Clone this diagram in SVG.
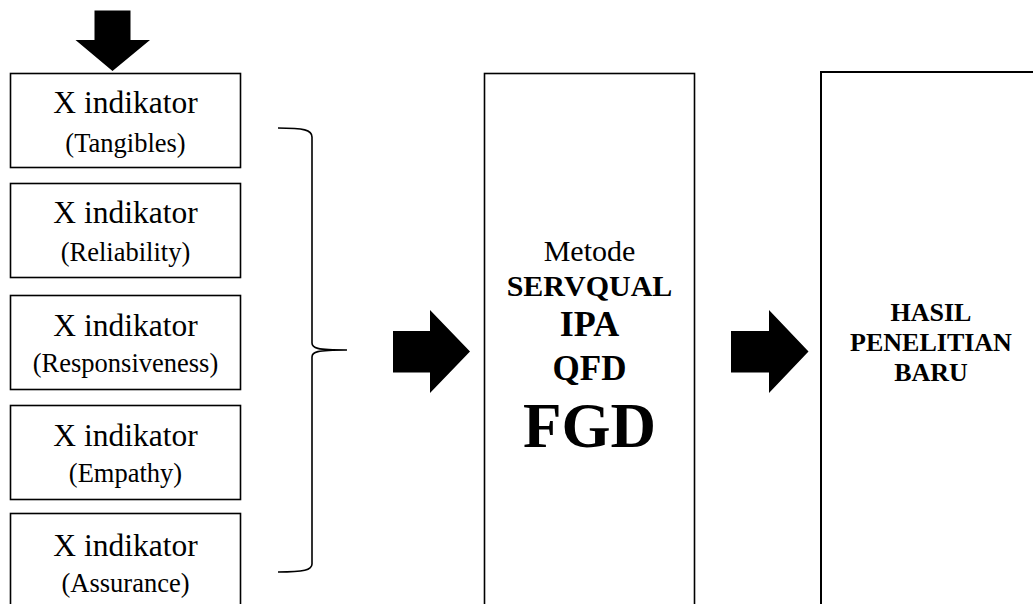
<svg xmlns="http://www.w3.org/2000/svg" width="1033" height="604" viewBox="0 0 1033 604">
<style>
.box{fill:#fff;stroke:#000;stroke-width:1.6}
.t1{font-family:"Liberation Serif","Times New Roman",serif;font-size:31.5px;text-anchor:middle;fill:#000}
.t2{font-family:"Liberation Serif","Times New Roman",serif;font-size:26.5px;text-anchor:middle;fill:#000}
.b{font-family:"Liberation Serif","Times New Roman",serif;font-weight:bold;text-anchor:middle;fill:#000}
.arr{fill:#000;stroke:none}
.brace{fill:none;stroke:#000;stroke-width:1.6}
</style>
<rect width="1033" height="604" fill="#fff"/>
<g id="connectors">
<polygon class="arr" points="94.5,10.5 130.5,10.5 130.5,40 150,40 112.5,71 75.5,40 94.5,40"/>
<path class="brace" d="M278,128 C304,128 312,130 312,137 V343 C312,348 316,350 347,350 M347,350 C316,350 312,352 312,357 V564 C312,570 304,572 278,572"/>
<polygon class="arr" points="393,331 430,331 430,310 470,351.5 430,393 430,372.5 393,372.5"/>
<polygon class="arr" points="731,331 769,331 769,310 808.5,351.5 769,393 769,372.5 731,372.5"/>
</g>
<g id="node-tangibles">
<rect class="box" x="10.5" y="73.5" width="230" height="94"/>
<text class="t1" x="125.5" y="113">X indikator</text>
<text class="t2" x="125.5" y="152">(Tangibles)</text>
</g>
<g id="node-reliability">
<rect class="box" x="10.5" y="183.5" width="230" height="94"/>
<text class="t1" x="125.5" y="223">X indikator</text>
<text class="t2" x="125.5" y="261">(Reliability)</text>
</g>
<g id="node-responsiveness">
<rect class="box" x="10.5" y="295.5" width="230" height="94"/>
<text class="t1" x="125.5" y="336">X indikator</text>
<text class="t2" x="125.5" y="372">(Responsiveness)</text>
</g>
<g id="node-empathy">
<rect class="box" x="10.5" y="405.5" width="230" height="94"/>
<text class="t1" x="125.5" y="446">X indikator</text>
<text class="t2" x="125.5" y="482">(Empathy)</text>
</g>
<g id="node-assurance">
<rect class="box" x="10.5" y="513.5" width="230" height="100"/>
<text class="t1" x="125.5" y="556">X indikator</text>
<text class="t2" x="125.5" y="592">(Assurance)</text>
</g>
<g id="node-metode">
<rect class="box" x="484.5" y="73.5" width="210" height="540"/>
<text class="t1" x="589.5" y="261" style="font-size:30px">Metode</text>
<text class="b" x="589.5" y="296" style="font-size:30px">SERVQUAL</text>
<text class="b" x="589.5" y="336" style="font-size:36px">IPA</text>
<text class="b" x="589.5" y="380" style="font-size:35px">QFD</text>
<text class="b" x="589.5" y="447" style="font-size:63px">FGD</text>
</g>
<g id="node-hasil">
<rect class="box" x="821" y="72" width="230" height="540" style="stroke-width:2"/>
<text class="b" x="931" y="321" style="font-size:26px">HASIL</text>
<text class="b" x="931" y="351" style="font-size:26px">PENELITIAN</text>
<text class="b" x="931" y="381" style="font-size:26px">BARU</text>
</g>
</svg>
